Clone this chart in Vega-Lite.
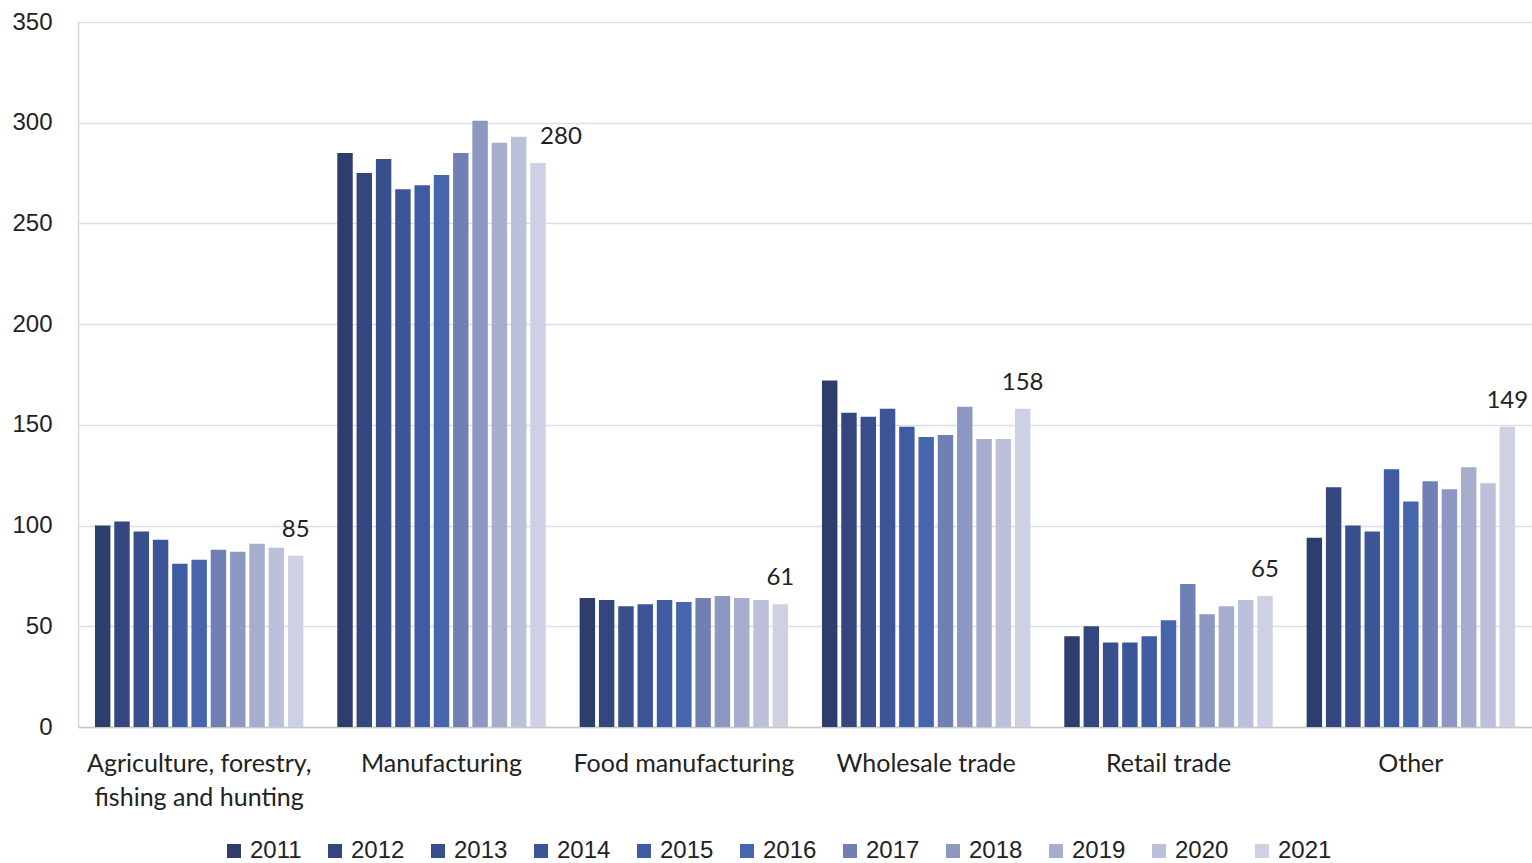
{
  "$schema": "https://vega.github.io/schema/vega-lite/v6.json",
  "width": 1454,
  "height": 705,
  "autosize": {"type": "none"},
  "padding": {"left": 78, "top": 22, "right": 0, "bottom": 136},
  "background": "white",
  "data": {
    "values": [
      {"category": "Agriculture, forestry, fishing and hunting", "year": "2011", "value": 100},
      {"category": "Agriculture, forestry, fishing and hunting", "year": "2012", "value": 102},
      {"category": "Agriculture, forestry, fishing and hunting", "year": "2013", "value": 97},
      {"category": "Agriculture, forestry, fishing and hunting", "year": "2014", "value": 93},
      {"category": "Agriculture, forestry, fishing and hunting", "year": "2015", "value": 81},
      {"category": "Agriculture, forestry, fishing and hunting", "year": "2016", "value": 83},
      {"category": "Agriculture, forestry, fishing and hunting", "year": "2017", "value": 88},
      {"category": "Agriculture, forestry, fishing and hunting", "year": "2018", "value": 87},
      {"category": "Agriculture, forestry, fishing and hunting", "year": "2019", "value": 91},
      {"category": "Agriculture, forestry, fishing and hunting", "year": "2020", "value": 89},
      {"category": "Agriculture, forestry, fishing and hunting", "year": "2021", "value": 85},
      {"category": "Manufacturing", "year": "2011", "value": 285},
      {"category": "Manufacturing", "year": "2012", "value": 275},
      {"category": "Manufacturing", "year": "2013", "value": 282},
      {"category": "Manufacturing", "year": "2014", "value": 267},
      {"category": "Manufacturing", "year": "2015", "value": 269},
      {"category": "Manufacturing", "year": "2016", "value": 274},
      {"category": "Manufacturing", "year": "2017", "value": 285},
      {"category": "Manufacturing", "year": "2018", "value": 301},
      {"category": "Manufacturing", "year": "2019", "value": 290},
      {"category": "Manufacturing", "year": "2020", "value": 293},
      {"category": "Manufacturing", "year": "2021", "value": 280},
      {"category": "Food manufacturing", "year": "2011", "value": 64},
      {"category": "Food manufacturing", "year": "2012", "value": 63},
      {"category": "Food manufacturing", "year": "2013", "value": 60},
      {"category": "Food manufacturing", "year": "2014", "value": 61},
      {"category": "Food manufacturing", "year": "2015", "value": 63},
      {"category": "Food manufacturing", "year": "2016", "value": 62},
      {"category": "Food manufacturing", "year": "2017", "value": 64},
      {"category": "Food manufacturing", "year": "2018", "value": 65},
      {"category": "Food manufacturing", "year": "2019", "value": 64},
      {"category": "Food manufacturing", "year": "2020", "value": 63},
      {"category": "Food manufacturing", "year": "2021", "value": 61},
      {"category": "Wholesale trade", "year": "2011", "value": 172},
      {"category": "Wholesale trade", "year": "2012", "value": 156},
      {"category": "Wholesale trade", "year": "2013", "value": 154},
      {"category": "Wholesale trade", "year": "2014", "value": 158},
      {"category": "Wholesale trade", "year": "2015", "value": 149},
      {"category": "Wholesale trade", "year": "2016", "value": 144},
      {"category": "Wholesale trade", "year": "2017", "value": 145},
      {"category": "Wholesale trade", "year": "2018", "value": 159},
      {"category": "Wholesale trade", "year": "2019", "value": 143},
      {"category": "Wholesale trade", "year": "2020", "value": 143},
      {"category": "Wholesale trade", "year": "2021", "value": 158},
      {"category": "Retail trade", "year": "2011", "value": 45},
      {"category": "Retail trade", "year": "2012", "value": 50},
      {"category": "Retail trade", "year": "2013", "value": 42},
      {"category": "Retail trade", "year": "2014", "value": 42},
      {"category": "Retail trade", "year": "2015", "value": 45},
      {"category": "Retail trade", "year": "2016", "value": 53},
      {"category": "Retail trade", "year": "2017", "value": 71},
      {"category": "Retail trade", "year": "2018", "value": 56},
      {"category": "Retail trade", "year": "2019", "value": 60},
      {"category": "Retail trade", "year": "2020", "value": 63},
      {"category": "Retail trade", "year": "2021", "value": 65},
      {"category": "Other", "year": "2011", "value": 94},
      {"category": "Other", "year": "2012", "value": 119},
      {"category": "Other", "year": "2013", "value": 100},
      {"category": "Other", "year": "2014", "value": 97},
      {"category": "Other", "year": "2015", "value": 128},
      {"category": "Other", "year": "2016", "value": 112},
      {"category": "Other", "year": "2017", "value": 122},
      {"category": "Other", "year": "2018", "value": 118},
      {"category": "Other", "year": "2019", "value": 129},
      {"category": "Other", "year": "2020", "value": 121},
      {"category": "Other", "year": "2021", "value": 149}
    ]
  },
  "encoding": {
    "x": {
      "field": "category",
      "type": "nominal",
      "sort": null,
      "scale": {"paddingInner": 0.14, "paddingOuter": 0.07},
      "axis": {
        "title": null,
        "labelAngle": 0,
        "labelFont": "Lato",
        "labelFontSize": 25,
        "labelColor": "#222222",
        "labelPadding": 24,
        "labelLimit": 400,
        "labelLineHeight": 34,
        "labelBaseline": "top",
        "labelExpr": "datum.value == 'Agriculture, forestry, fishing and hunting' ? ['Agriculture, forestry,', 'fishing and hunting'] : datum.value",
        "ticks": false,
        "domainColor": "#c8c8c8",
        "domainWidth": 1.5,
        "grid": false
      }
    },
    "xOffset": {
      "field": "year",
      "type": "nominal",
      "scale": {"paddingInner": 0.2}
    },
    "y": {
      "field": "value",
      "type": "quantitative",
      "scale": {"domain": [0, 350], "nice": false},
      "axis": {
        "title": null,
        "values": [0, 50, 100, 150, 200, 250, 300, 350],
        "labelFont": "Liberation Sans",
        "labelFontSize": 24,
        "labelColor": "#222222",
        "labelPadding": 26,
        "ticks": false,
        "domain": true,
        "domainColor": "#d4d4d4",
        "domainWidth": 1.5,
        "grid": true,
        "gridColor": "#dcdee9",
        "gridWidth": 1.5
      }
    }
  },
  "layer": [
    {
      "mark": {"type": "bar"},
      "encoding": {
        "color": {
          "field": "year",
          "type": "nominal",
          "scale": {
            "domain": ["2011", "2012", "2013", "2014", "2015", "2016", "2017", "2018", "2019", "2020", "2021"],
            "range": ["#2e3e6c", "#33477e", "#384f8b", "#3c5597", "#3f5ba1", "#4665ad", "#7180b4", "#8c98c1", "#a6adcd", "#bcc0da", "#cdd1e3"]
          },
          "legend": {
            "title": null,
            "orient": "none",
            "legendX": 144,
            "legendY": 817,
            "direction": "horizontal",
            "symbolType": "square",
            "symbolSize": 196,
            "symbolStrokeWidth": 0,
            "labelFont": "Liberation Sans",
            "labelFontSize": 24,
            "labelColor": "#222222",
            "labelOffset": 4,
            "columnPadding": 21
          }
        }
      }
    },
    {
      "transform": [{"filter": "datum.year == '2021' && datum.category != 'Manufacturing'"}],
      "mark": {"type": "text", "font": "Lato", "fontSize": 24, "color": "#222222", "baseline": "alphabetic", "dy": -19},
      "encoding": {"text": {"field": "value", "type": "quantitative"}}
    },
    {
      "transform": [{"filter": "datum.year == '2021' && datum.category == 'Manufacturing'"}],
      "mark": {"type": "text", "font": "Lato", "fontSize": 24, "color": "#222222", "baseline": "alphabetic", "dy": -19, "dx": 23},
      "encoding": {"text": {"field": "value", "type": "quantitative"}}
    }
  ],
  "config": {"view": {"stroke": null}}
}
